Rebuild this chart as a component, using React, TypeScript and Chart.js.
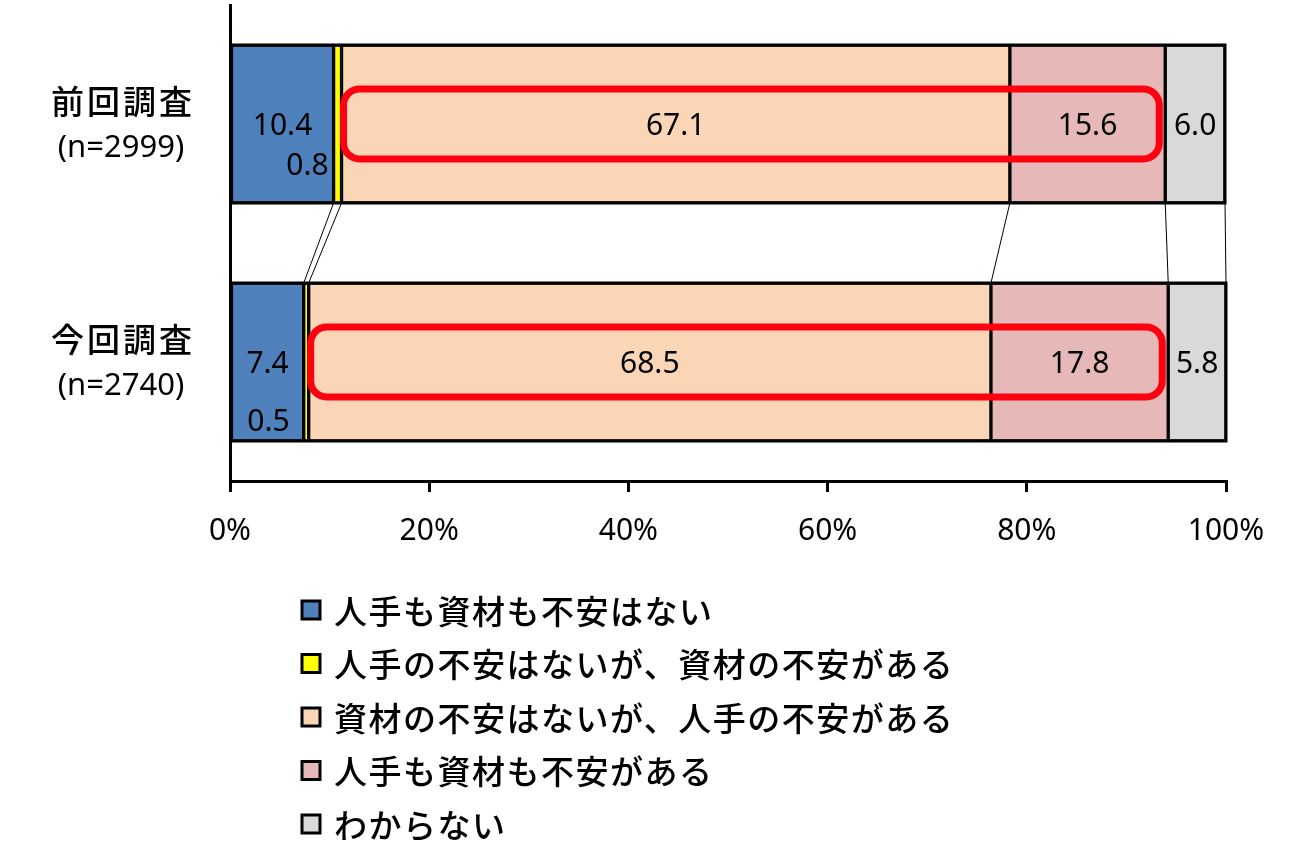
import { useEffect, useRef } from "react"
import { Chart, registerables } from "chart.js"

Chart.register(...registerables)

const categories = ["前回調査", "今回調査"]
const sampleSizes = ["(n=2999)", "(n=2740)"]
const seriesNames = [
  "人手も資材も不安はない",
  "人手の不安はないが、資材の不安がある",
  "資材の不安はないが、人手の不安がある",
  "人手も資材も不安がある",
  "わからない",
]
const noAnxiety = [10.4, 7.4]
const materialOnly = [0.8, 0.5]
const laborOnly = [67.1, 68.5]
const bothAnxiety = [15.6, 17.8]
const unknown = [6.0, 5.8]
const seriesColors = ["#4f81bd", "#ffff00", "#fad5b6", "#e6b9b8", "#d9d9d9"]

const NUM_FONT = '"Noto Sans", sans-serif'
const JP_FONT = '"Noto Sans CJK JP", sans-serif'

// small values sit inside the blue bar, nudged by hand like in the original
const smallLabelNudge = [
  { dx: -5, dy: 42 },
  { dx: -14, dy: 60 },
]

const barProps = (el: any) => el.getProps(["x", "y", "base", "height"], true)

// thin connector lines between the two stacks + heavier outline round each stack
const seriesLinesPlugin = {
  id: "seriesLines",
  afterDatasetsDraw(chart: Chart) {
    const ctx = chart.ctx
    const n = chart.data.datasets.length
    ctx.save()
    ctx.strokeStyle = "#000"
    ctx.lineWidth = 1
    chart.data.datasets.forEach((_, di) => {
      const meta = chart.getDatasetMeta(di)
      const a = barProps(meta.data[0])
      const b = barProps(meta.data[1])
      ctx.beginPath()
      ctx.moveTo(a.x, a.y + a.height / 2)
      ctx.lineTo(b.x, b.y - b.height / 2)
      ctx.stroke()
    })
    ctx.lineWidth = 3
    for (let i = 0; i < categories.length; i++) {
      const first = barProps(chart.getDatasetMeta(0).data[i])
      const last = barProps(chart.getDatasetMeta(n - 1).data[i])
      ctx.strokeRect(first.base, first.y - first.height / 2, last.x - first.base, first.height)
    }
    ctx.restore()
  },
}

const highlightPlugin = {
  id: "highlight",
  afterDatasetsDraw(chart: Chart) {
    const ctx = chart.ctx
    const peach = chart.getDatasetMeta(2)
    const pink = chart.getDatasetMeta(3)
    ctx.save()
    ctx.strokeStyle = "#ff0010"
    ctx.lineWidth = 7
    for (let i = 0; i < categories.length; i++) {
      const p = barProps(peach.data[i])
      const q = barProps(pink.data[i])
      const left = p.base + 2
      const right = q.x - 6
      ctx.beginPath()
      ctx.roundRect(left, p.y - 35, right - left, 70, 16)
      ctx.stroke()
    }
    ctx.restore()
  },
}

const valueLabelsPlugin = {
  id: "valueLabels",
  afterDatasetsDraw(chart: Chart) {
    const ctx = chart.ctx
    ctx.save()
    ctx.fillStyle = "#000"
    ctx.font = `30px ${NUM_FONT}`
    ctx.textBaseline = "middle"
    chart.data.datasets.forEach((ds, di) => {
      const meta = chart.getDatasetMeta(di)
      meta.data.forEach((el, i) => {
        const v = ds.data[i] as number
        const b = barProps(el)
        const text = v.toFixed(1)
        if (di === 1) {
          ctx.textAlign = "right"
          ctx.fillText(text, b.base + smallLabelNudge[i].dx, b.y + smallLabelNudge[i].dy)
        } else {
          ctx.textAlign = "center"
          ctx.fillText(text, (b.x + b.base) / 2, b.y + 2)
        }
      })
    })
    ctx.restore()
  },
}

const categoryLabelsPlugin = {
  id: "categoryLabels",
  afterDraw(chart: Chart) {
    const ctx = chart.ctx
    const yScale = chart.scales.y
    ctx.save()
    ctx.fillStyle = "#000"
    ctx.textAlign = "center"
    ctx.textBaseline = "middle"
    categories.forEach((cat, i) => {
      const y = yScale.getPixelForValue(i)
      ctx.font = `500 33px ${JP_FONT}`
      ;(ctx as any).letterSpacing = "3px"
      ctx.fillText(cat, 123, y - 23)
      ;(ctx as any).letterSpacing = "0px"
      ctx.font = `31px ${NUM_FONT}`
      ctx.fillText(sampleSizes[i], 121, y + 24)
    })
    ctx.restore()
  },
}

const legendPlugin = {
  id: "stackLegend",
  afterDraw(chart: Chart) {
    const ctx = chart.ctx
    ctx.save()
    seriesNames.forEach((name, i) => {
      const cy = 610 + i * 53.5
      ctx.fillStyle = seriesColors[i]
      ctx.fillRect(302, cy - 9, 18, 18)
      ctx.strokeStyle = "#000"
      ctx.lineWidth = 3
      ctx.strokeRect(302, cy - 9, 18, 18)
      ctx.fillStyle = "#000"
      ctx.font = `500 33px ${JP_FONT}`
      ;(ctx as any).letterSpacing = "1.5px"
      ctx.textAlign = "left"
      ctx.textBaseline = "middle"
      ctx.fillText(name, 334, cy + 1)
    })
    ctx.restore()
  },
}

const App = () => {
  const chartRef = useRef<HTMLCanvasElement>(null)
  const chartInstance = useRef<Chart | null>(null)

  useEffect(() => {
    document.body.style.margin = "0"
    if (!chartRef.current) return
    if (chartInstance.current) {
      chartInstance.current.destroy()
    }
    const ctx = chartRef.current.getContext("2d")
    if (!ctx) return

    const values = [noAnxiety, materialOnly, laborOnly, bothAnxiety, unknown]

    chartInstance.current = new Chart(ctx, {
      type: "bar",
      data: {
        labels: categories,
        datasets: values.map((data, i) => ({
          label: seriesNames[i],
          data,
          backgroundColor: seriesColors[i],
          borderColor: "#000",
          borderWidth: 2,
          borderSkipped: false,
          barThickness: 158,
        })),
      },
      options: {
        indexAxis: "y",
        animation: false,
        responsive: true,
        maintainAspectRatio: false,
        layout: { padding: { top: 5, right: 74, bottom: 289, left: 0 } },
        plugins: {
          legend: { display: false },
          tooltip: { enabled: false },
        },
        scales: {
          x: {
            stacked: true,
            min: 0,
            max: 100,
            afterFit: (scale: any) => {
              scale.height = 80
            },
            ticks: {
              stepSize: 20,
              color: "#000",
              padding: 21,
              font: { family: NUM_FONT, size: 30 },
              callback: (value) => `${value}%`,
            },
            grid: {
              drawOnChartArea: false,
              drawTicks: true,
              tickLength: 11,
              color: "#000",
              lineWidth: 3,
            },
            border: { display: true, color: "#000", width: 3 },
          },
          y: {
            stacked: true,
            afterFit: (scale: any) => {
              scale.width = 230
            },
            ticks: { display: false },
            grid: { drawOnChartArea: false, drawTicks: false },
            border: { display: true, color: "#000", width: 3 },
          },
        },
      },
      plugins: [seriesLinesPlugin, highlightPlugin, valueLabelsPlugin, categoryLabelsPlugin, legendPlugin],
    })

    return () => {
      if (chartInstance.current) {
        chartInstance.current.destroy()
        chartInstance.current = null
      }
    }
  }, [])

  return (
    <div style={{ width: 1300, height: 850, background: "#fff" }}>
      <canvas ref={chartRef}></canvas>
    </div>
  )
}

export default App
